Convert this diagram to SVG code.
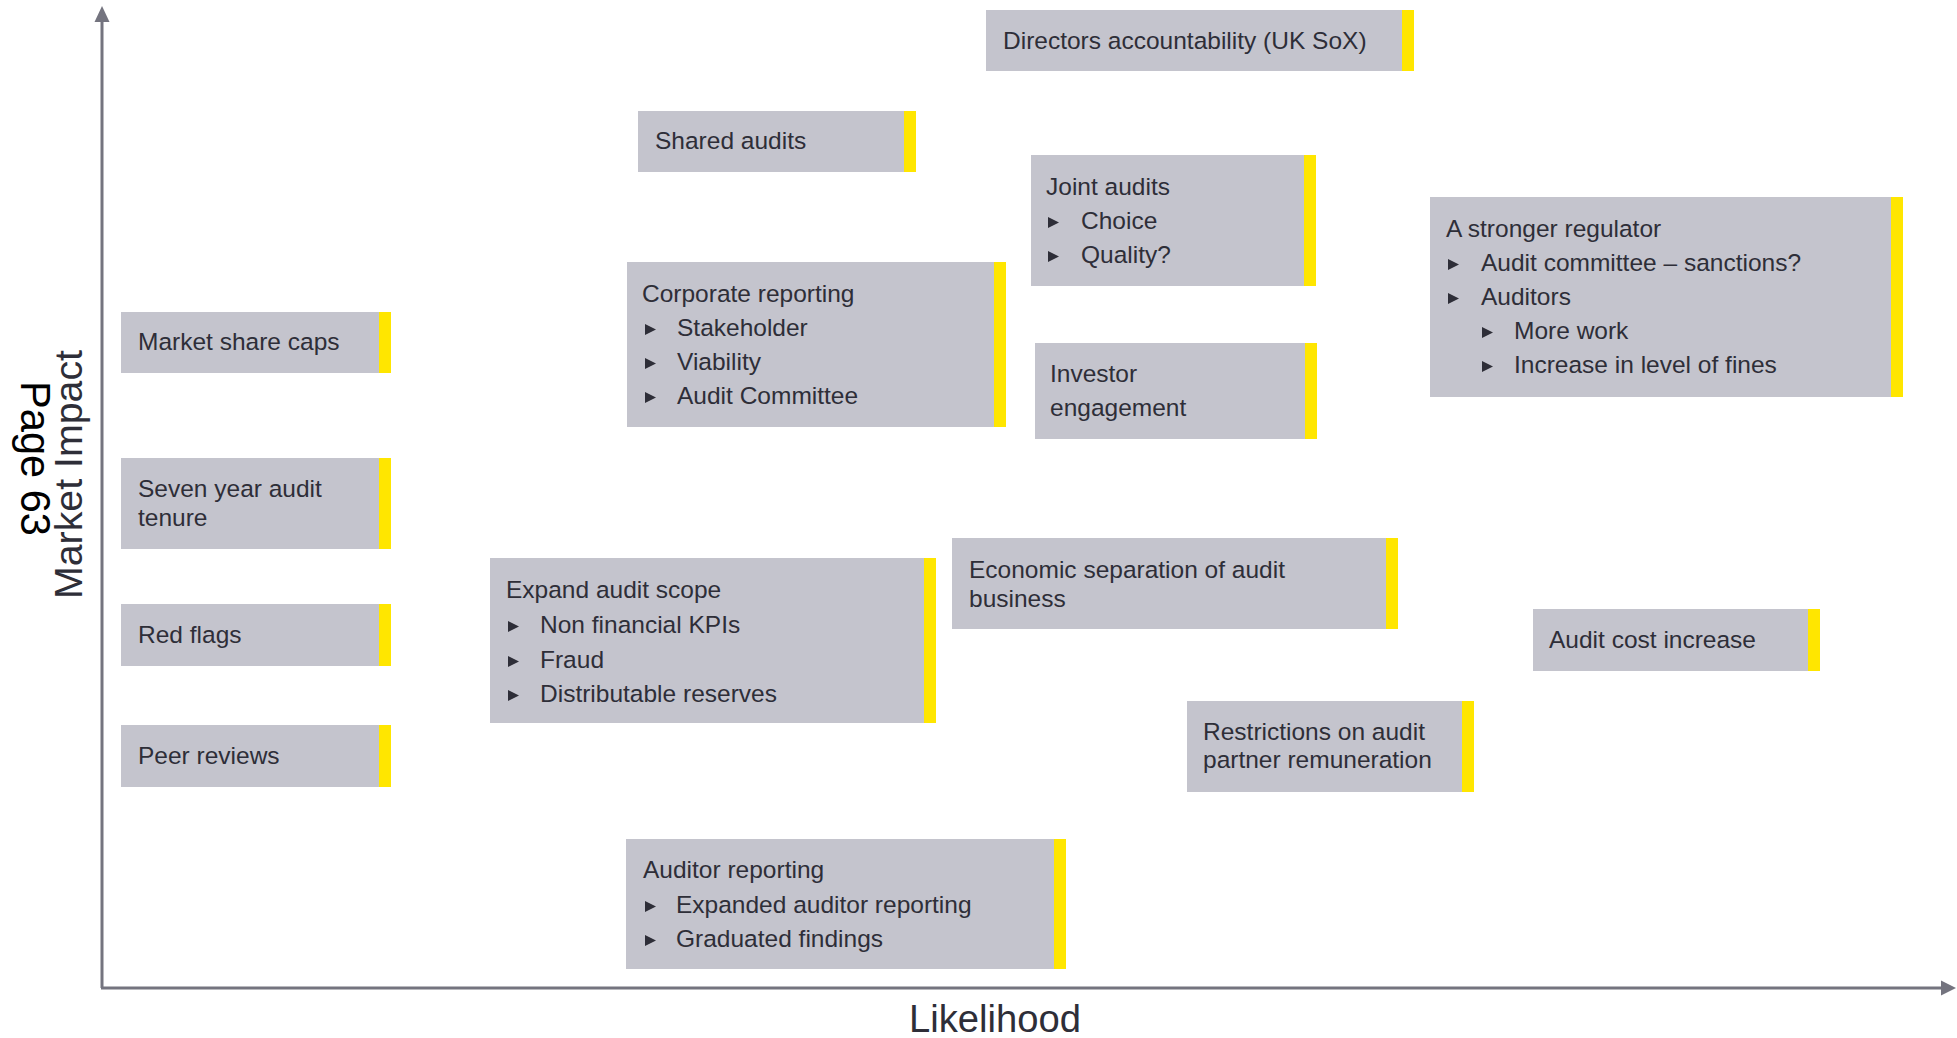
<svg xmlns="http://www.w3.org/2000/svg" xmlns:xlink="http://www.w3.org/1999/xlink" width="1957" height="1038" viewBox="0 0 1957 1038">
<style>
.box{fill:#c4c4cd}
.bar{fill:#ffe600}
.t{font-family:"Liberation Sans",Arial,sans-serif;font-size:24.5px;fill:#2e2e38}
.ax{stroke:#74747f;stroke-width:3;fill:none}
.axl{font-family:"Liberation Sans",Arial,sans-serif;font-size:38px;fill:#2e2e38}
.blt{fill:#2e2e38}
</style>
<defs>
<polygon id="b" points="0,-11 11,-5.5 0,0"/>
</defs>
<rect width="1957" height="1038" fill="#ffffff"/>

<g id="axes">
<line class="ax" x1="102" y1="988" x2="102" y2="20"/>
<polygon points="102,6 94.5,22 109.5,22" fill="#74747f"/>
<line class="ax" x1="101" y1="988" x2="1943" y2="988"/>
<polygon points="1956,988 1941,980.5 1941,995.5" fill="#74747f"/>
<text class="axl" x="995" y="1032" text-anchor="middle" textLength="172" lengthAdjust="spacingAndGlyphs">Likelihood</text>
<text class="axl" transform="translate(82,599) rotate(-90)" x="0" y="0" textLength="249" lengthAdjust="spacingAndGlyphs">Market Impact</text>
<text transform="translate(21,381) rotate(90)" x="0" y="0" font-family="Liberation Sans, Arial, sans-serif" font-size="42" fill="#000000" textLength="155" lengthAdjust="spacingAndGlyphs">Page 63</text>
</g>

<g id="n-directors">
<rect class="box" x="986" y="10" width="428" height="61"/>
<rect class="bar" x="1402" y="10" width="12" height="61"/>
<text class="t" x="1003" y="49">Directors accountability (UK SoX)</text>
</g>

<g id="n-shared">
<rect class="box" x="638" y="111" width="278" height="61"/>
<rect class="bar" x="904" y="111" width="12" height="61"/>
<text class="t" x="655" y="149">Shared audits</text>
</g>

<g id="n-joint">
<rect class="box" x="1031" y="155" width="285" height="131"/>
<rect class="bar" x="1304" y="155" width="12" height="131"/>
<text class="t" x="1046" y="195">Joint audits</text>
<use href="#b" class="blt" x="1048" y="228"/>
<text class="t" x="1081" y="229">Choice</text>
<use href="#b" class="blt" x="1048" y="262"/>
<text class="t" x="1081" y="263">Quality?</text>
</g>

<g id="n-corporate">
<rect class="box" x="627" y="262" width="379" height="165"/>
<rect class="bar" x="994" y="262" width="12" height="165"/>
<text class="t" x="642" y="302">Corporate reporting</text>
<use href="#b" class="blt" x="645" y="335"/>
<text class="t" x="677" y="336">Stakeholder</text>
<use href="#b" class="blt" x="645" y="369"/>
<text class="t" x="677" y="370">Viability</text>
<use href="#b" class="blt" x="645" y="403"/>
<text class="t" x="677" y="404">Audit Committee</text>
</g>

<g id="n-investor">
<rect class="box" x="1035" y="343" width="282" height="96"/>
<rect class="bar" x="1305" y="343" width="12" height="96"/>
<text class="t" x="1050" y="382">Investor</text>
<text class="t" x="1050" y="416">engagement</text>
</g>

<g id="n-regulator">
<rect class="box" x="1430" y="197" width="473" height="200"/>
<rect class="bar" x="1891" y="197" width="12" height="200"/>
<text class="t" x="1446" y="237">A stronger regulator</text>
<use href="#b" class="blt" x="1448" y="270"/>
<text class="t" x="1481" y="271">Audit committee – sanctions?</text>
<use href="#b" class="blt" x="1448" y="304"/>
<text class="t" x="1481" y="305">Auditors</text>
<use href="#b" class="blt" x="1482" y="338"/>
<text class="t" x="1514" y="339">More work</text>
<use href="#b" class="blt" x="1482" y="372"/>
<text class="t" x="1514" y="373">Increase in level of fines</text>
</g>

<g id="n-marketshare">
<rect class="box" x="121" y="312" width="270" height="61"/>
<rect class="bar" x="379" y="312" width="12" height="61"/>
<text class="t" x="138" y="350">Market share caps</text>
</g>

<g id="n-sevenyear">
<rect class="box" x="121" y="458" width="270" height="91"/>
<rect class="bar" x="379" y="458" width="12" height="91"/>
<text class="t" x="138" y="497">Seven year audit</text>
<text class="t" x="138" y="526">tenure</text>
</g>

<g id="n-redflags">
<rect class="box" x="121" y="604" width="270" height="62"/>
<rect class="bar" x="379" y="604" width="12" height="62"/>
<text class="t" x="138" y="643">Red flags</text>
</g>

<g id="n-peer">
<rect class="box" x="121" y="725" width="270" height="62"/>
<rect class="bar" x="379" y="725" width="12" height="62"/>
<text class="t" x="138" y="764">Peer reviews</text>
</g>

<g id="n-expand">
<rect class="box" x="490" y="558" width="446" height="165"/>
<rect class="bar" x="924" y="558" width="12" height="165"/>
<text class="t" x="506" y="598">Expand audit scope</text>
<use href="#b" class="blt" x="508" y="632"/>
<text class="t" x="540" y="633">Non financial KPIs</text>
<use href="#b" class="blt" x="508" y="667"/>
<text class="t" x="540" y="668">Fraud</text>
<use href="#b" class="blt" x="508" y="701"/>
<text class="t" x="540" y="702">Distributable reserves</text>
</g>

<g id="n-economic">
<rect class="box" x="952" y="538" width="446" height="91"/>
<rect class="bar" x="1386" y="538" width="12" height="91"/>
<text class="t" x="969" y="578">Economic separation of audit</text>
<text class="t" x="969" y="607">business</text>
</g>

<g id="n-cost">
<rect class="box" x="1533" y="609" width="287" height="62"/>
<rect class="bar" x="1808" y="609" width="12" height="62"/>
<text class="t" x="1549" y="648">Audit cost increase</text>
</g>

<g id="n-restrictions">
<rect class="box" x="1187" y="701" width="287" height="91"/>
<rect class="bar" x="1462" y="701" width="12" height="91"/>
<text class="t" x="1203" y="740">Restrictions on audit</text>
<text class="t" x="1203" y="768">partner remuneration</text>
</g>

<g id="n-auditor">
<rect class="box" x="626" y="839" width="440" height="130"/>
<rect class="bar" x="1054" y="839" width="12" height="130"/>
<text class="t" x="643" y="878">Auditor reporting</text>
<use href="#b" class="blt" x="645" y="912"/>
<text class="t" x="676" y="913">Expanded auditor reporting</text>
<use href="#b" class="blt" x="645" y="946"/>
<text class="t" x="676" y="947">Graduated findings</text>
</g>
</svg>
